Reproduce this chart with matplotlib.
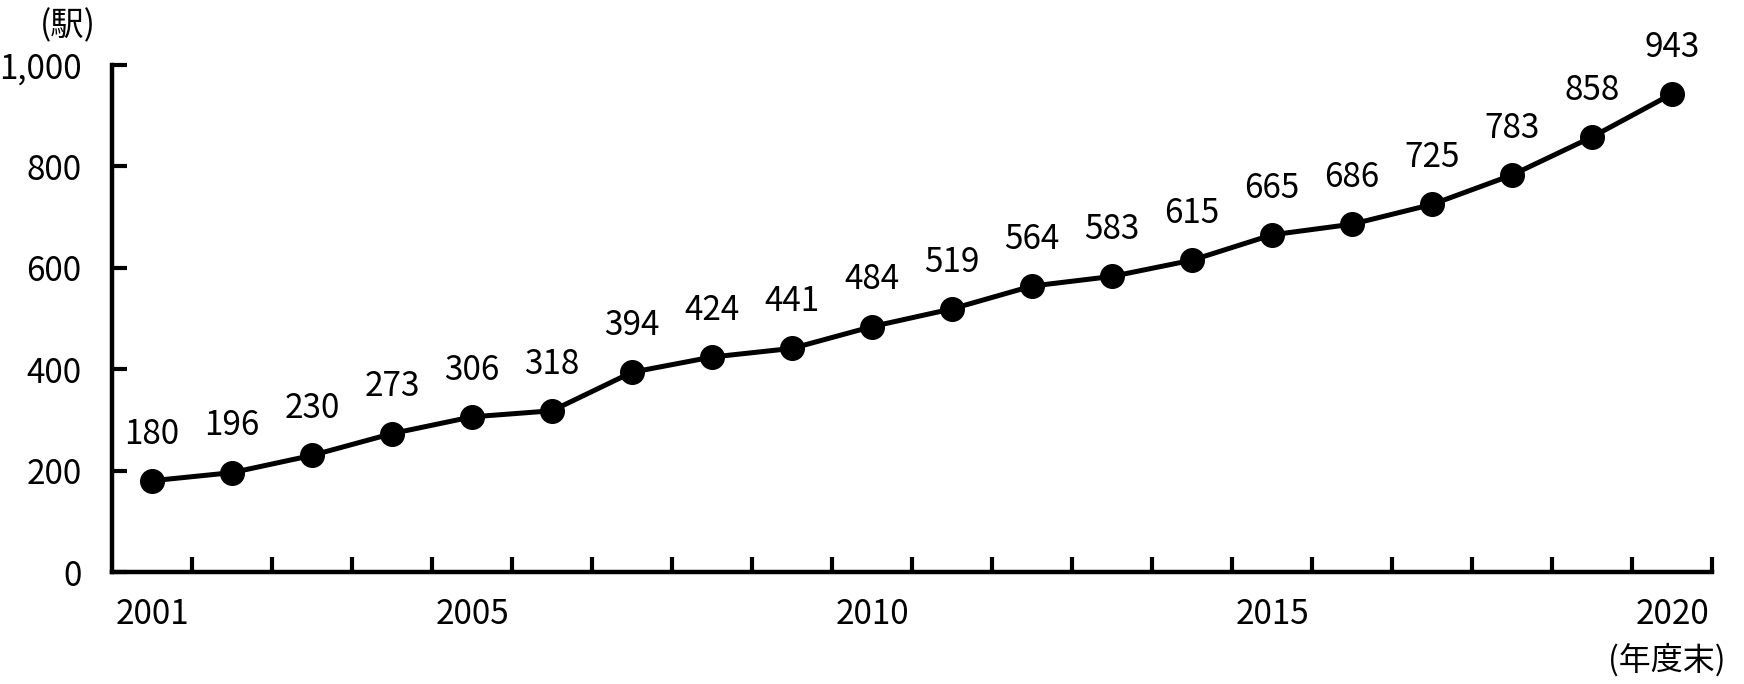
import matplotlib.pyplot as plt
import numpy as np

# Number of stations by fiscal year end
years = list(range(2001, 2021))
stations = [180, 196, 230, 273, 306, 318, 394, 424, 441, 484,
            519, 564, 583, 615, 665, 686, 725, 783, 858, 943]
label_years = [2001, 2005, 2010, 2015, 2020]

plt.rcParams['font.family'] = ['Noto Sans CJK JP', 'DejaVu Sans']

fig = plt.figure(figsize=(17.44, 6.84), dpi=100)
ax = fig.add_axes([112 / 1744, 1 - 572 / 684, 1600 / 1744, (572 - 65) / 684])

x = np.arange(len(years))
ax.plot(x, stations, color="black", linewidth=3.6, marker="o", markersize=17)
for xi, v in zip(x, stations):
    ax.annotate(f"{v}", (xi, v), xytext=(0, 21), textcoords="offset points",
                ha="center", va="bottom", fontsize=24)

ax.set_xlim(-0.5, len(years) - 0.5)
ax.set_ylim(0, 1000)
ax.set_yticks(range(0, 1001, 200))
ax.set_yticklabels([f"{v:,}" for v in range(0, 1001, 200)], fontsize=24)
ax.set_xticks([years.index(y) for y in label_years])
ax.set_xticklabels([str(y) for y in label_years], fontsize=24)
ax.set_xticks(np.arange(0.5, len(years), 1.0), minor=True)
ax.tick_params(axis="x", which="major", length=0, pad=18)
ax.tick_params(axis="x", which="minor", direction="in", length=11, width=3)
ax.tick_params(axis="y", direction="in", length=11, width=3, pad=22)

for side in ["top", "right"]:
    ax.spines[side].set_visible(False)
for side in ["left", "bottom"]:
    ax.spines[side].set_linewidth(3.2)

fig.text(68 / 1744, 1 - 26 / 684, "(駅)", fontsize=24, ha="center", va="center")
fig.text(1667 / 1744, 1 - 660 / 684, "(年度末)", fontsize=23, ha="center", va="center")

fig.savefig("out.png", dpi=100)
